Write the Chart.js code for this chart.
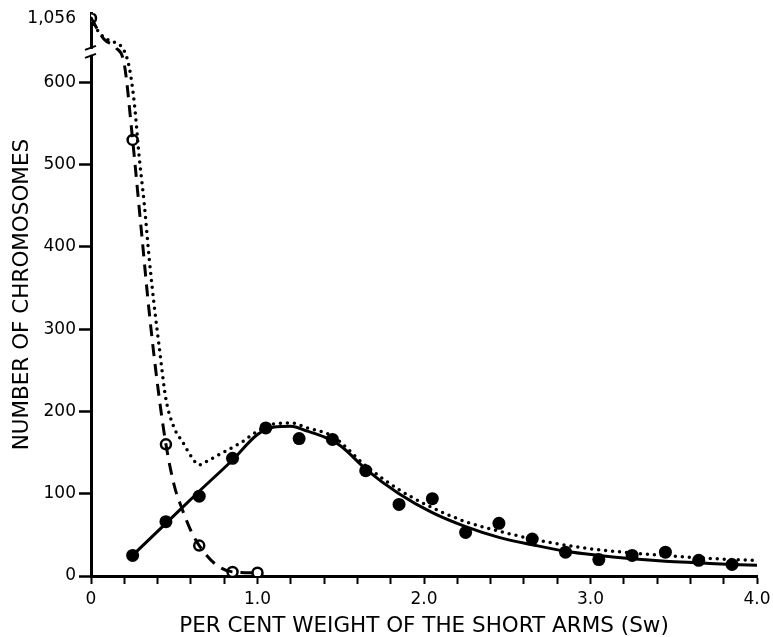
<!DOCTYPE html>
<html>
<head>
<meta charset="utf-8">
<script src="https://cdn.jsdelivr.net/npm/chart.js@4"></script>
<style>
  html, body { margin: 0; padding: 0; background: #fff; }
  #wrap { width: 773px; height: 637px; }
</style>
</head>
<body>
<div id="wrap"><canvas id="chart"></canvas></div>
<script>
"use strict";

// filled circles (observed)
const filledX = [0.25, 0.45, 0.65, 0.85, 1.05, 1.25, 1.45, 1.65, 1.85, 2.05, 2.25, 2.45, 2.65, 2.85, 3.05, 3.25, 3.45, 3.65, 3.85];
const filledY = [25, 66, 97, 143, 180, 167, 166, 128, 87, 94, 53, 64, 45, 29, 20, 25, 29, 19, 14];

// open circles
const openX = [0, 0.25, 0.45, 0.65, 0.85, 1.0];
const openY = [1056, 530, 160, 37, 5, 4];

// solid fitted curve
const solidX = [0.25, 0.45, 0.65, 0.85, 1.0, 1.1, 1.2, 1.3, 1.4, 1.5, 1.65, 1.85, 2.05, 2.25, 2.45, 2.65, 2.85, 3.05, 3.25, 3.45, 3.65, 3.85, 4.0];
const solidY = [25, 64, 103, 141, 172, 181, 182, 176, 169, 158, 130, 100, 77, 60, 47, 38, 30, 25, 21, 18, 16, 14, 13];

// dashed curve
const dashX = [0, 0.08, 0.15, 0.2, 0.25, 0.3, 0.35, 0.4, 0.45, 0.5, 0.55, 0.6, 0.65, 0.75, 0.85, 1.0];
const dashY = [1056, 652, 642, 622, 530, 425, 320, 232, 160, 110, 80, 55, 37, 14, 5, 4];

// dotted curve (sum)
const dotX = [0, 0.03, 0.07, 0.12, 0.17, 0.2, 0.23, 0.26, 0.29, 0.32, 0.35, 0.38, 0.41, 0.45, 0.5, 0.55, 0.6, 0.65, 0.7, 0.8, 0.9, 1.0, 1.1, 1.2, 1.3, 1.45, 1.65, 1.85, 2.0, 2.25, 2.5, 2.75, 3.0, 3.25, 3.5, 3.75, 4.0];
const dotY = [1056, 790, 656, 650, 646, 638, 618, 575, 508, 452, 385, 328, 278, 215, 180, 163, 146, 135, 140, 151, 162, 176, 185, 186, 180, 170, 134, 105, 88, 66, 52, 41, 33, 28, 24, 21, 19];

const yTicks = [0, 100, 200, 300, 400, 500, 600, 1056];
const yTickLabels = ["0", "100", "200", "300", "400", "500", "600", "1,056"];
const xTickLabels = { 0: "0", 1: "1.0", 2: "2.0", 3: "3.0", 4: "4.0" };

// broken y axis: values above BREAK are squeezed
const BREAK = 660;
const SQUEEZE = 18 / 396;
const BREAK_MARK = 637;
function disp(v) {
  return v <= BREAK ? v : BREAK + (v - BREAK) * SQUEEZE;
}
function pts(xs, ys) {
  return xs.map((x, i) => ({ x: x, y: disp(ys[i]) }));
}

const FONT = "'DejaVu Sans', sans-serif";

const axisBreak = {
  id: "axisBreak",
  afterDraw(chart) {
    const c = chart.ctx;
    const x = chart.scales.x.getPixelForValue(0);
    const y = chart.scales.y.getPixelForValue(BREAK_MARK);
    c.save();
    c.fillStyle = "#fff";
    c.fillRect(x - 5, y - 3, 10, 6);
    c.strokeStyle = "#000";
    c.lineWidth = 2;
    c.beginPath();
    c.moveTo(x - 6, y - 2); c.lineTo(x + 5, y - 6);
    c.moveTo(x - 6, y + 6); c.lineTo(x + 5, y + 2);
    c.stroke();
    c.restore();
  }
};

new Chart(document.getElementById("chart"), {
  type: "scatter",
  data: {
    datasets: [
      {
        type: "line", data: pts(dotX, dotY),
        borderColor: "#000", borderWidth: 3.5, borderDash: [0, 7], borderCapStyle: "round",
        pointRadius: 0, cubicInterpolationMode: "monotone", fill: false
      },
      {
        type: "line", data: pts(dashX, dashY),
        borderColor: "#000", borderWidth: 3, borderDash: [12, 8],
        pointRadius: 0, cubicInterpolationMode: "monotone", fill: false
      },
      {
        type: "line", data: pts(solidX, solidY),
        borderColor: "#000", borderWidth: 3,
        pointRadius: 0, cubicInterpolationMode: "monotone", fill: false
      },
      {
        data: pts(openX, openY),
        pointRadius: 5, pointBackgroundColor: "#fff", pointBorderColor: "#000", pointBorderWidth: 2.5
      },
      {
        data: pts(filledX, filledY),
        pointRadius: 6.5, pointBackgroundColor: "#000", pointBorderColor: "#000", pointBorderWidth: 0
      }
    ]
  },
  options: {
    responsive: true,
    maintainAspectRatio: false,
    animation: false,
    layout: { padding: { top: 4, right: 16, left: 0, bottom: 0 } },
    plugins: { legend: { display: false }, tooltip: { enabled: false } },
    scales: {
      x: {
        type: "linear", min: 0, max: 4,
        afterFit(s) { s.height = 61; s.paddingRight = 0; s.paddingLeft = 0; },
        ticks: {
          stepSize: 0.2, autoSkip: false, maxRotation: 0, padding: 5,
          color: "#000", font: { family: FONT, size: 17 },
          callback(v) {
            const r = Math.round(v * 10) / 10;
            return Number.isInteger(r) ? xTickLabels[r] : "";
          }
        },
        grid: { drawOnChartArea: false, drawTicks: true, tickLength: 8, tickWidth: 2, tickColor: "#000" },
        border: { display: true, color: "#000", width: 3 },
        title: {
          display: true, text: "PER CENT WEIGHT OF THE SHORT ARMS (Sw)",
          color: "#000", font: { family: FONT, size: 21.5, lineHeight: 1 }, padding: 0
        }
      },
      y: {
        type: "linear", min: 0, max: 684,
        afterFit(s) { s.width = 91; },
        afterBuildTicks(s) { s.ticks = yTicks.map(v => ({ value: disp(v) })); },
        ticks: {
          padding: 3, color: "#000", font: { family: FONT, size: 17 },
          callback(v, i) { return yTickLabels[i]; }
        },
        grid: {
          drawOnChartArea: false, drawTicks: true, tickLength: 12, tickWidth: 2.5,
          tickColor: ctx => (ctx.tick && ctx.tick.value > BREAK) ? "rgba(0,0,0,0)" : "#000"
        },
        border: { display: true, color: "#000", width: 3 },
        title: {
          display: true, text: "NUMBER OF CHROMOSOMES",
          color: "#000", font: { family: FONT, size: 21.5, lineHeight: 1.2 }, padding: { top: 10, bottom: 0 }
        }
      }
    }
  },
  plugins: [axisBreak]
});
</script>
</body>
</html>
